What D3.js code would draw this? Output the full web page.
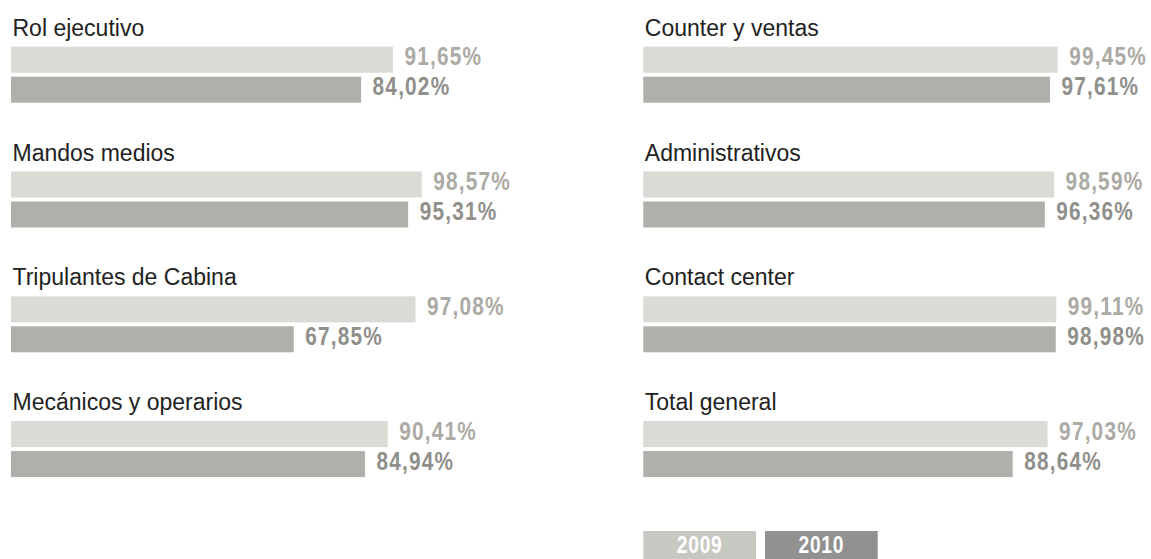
<!DOCTYPE html>
<html>
<head>
<meta charset="utf-8">
<script src="https://cdn.jsdelivr.net/npm/d3@7"></script>
<style>
  html, body { margin: 0; padding: 0; background: #ffffff; }
  svg { display: block; }
</style>
</head>
<body>
<svg id="chart" width="1151" height="559"></svg>
<script>
// Two columns of categories, each with a 2009 and a 2010 percentage
const leftCategories  = ["Rol ejecutivo", "Mandos medios", "Tripulantes de Cabina", "Mecánicos y operarios"];
const left2009        = [91.65, 98.57, 97.08, 90.41];
const left2010        = [84.02, 95.31, 67.85, 84.94];

const rightCategories = ["Counter y ventas", "Administrativos", "Contact center", "Total general"];
const right2009       = [99.45, 98.59, 99.11, 97.03];
const right2010       = [97.61, 96.36, 98.98, 88.64];

const years = ["2009", "2010"];

const svg = d3.select("#chart");

const barColor    = { "2009": "#dbdad5", "2010": "#b0b0ab" };
const labelColor  = { "2009": "#abaaa4", "2010": "#8f8f8b" };
const legendColor = { "2009": "#c8c8c3", "2010": "#919190" };

// Condensed numerals: a bold sans squeezed horizontally
const numFont = "'Liberation Sans', Arial, sans-serif";
const squeeze = 0.8;

// Shared value scale: 0–100 %
const x = d3.scaleLinear().domain([0, 100]).range([0, 416.7]);

// Vertical slots, one per category
const row = d3.scaleBand().domain(d3.range(4)).range([46.7, 46.7 + 4 * 124.8]).padding(0);
// Within a slot: one bar per year
const sub = d3.scaleBand().domain(years).range([0, 56]).paddingInner(0.13);

const fmt = v => d3.format(".2f")(v).replace(".", ",") + "%";

function drawColumn(x0, categories, v2009, v2010) {
  const rows = categories.map((c, i) => ({
    name: c,
    values: [{ year: "2009", v: v2009[i] }, { year: "2010", v: v2010[i] }]
  }));

  const g = svg.append("g").attr("transform", `translate(${x0},0)`);

  const grp = g.selectAll("g.row").data(rows).join("g")
    .attr("class", "row")
    .attr("transform", (d, i) => `translate(0,${row(i)})`);

  grp.append("text")
    .attr("x", 1.5)
    .attr("y", -11)
    .attr("font-family", "'Liberation Sans', Arial, sans-serif")
    .attr("font-size", 23)
    .attr("fill", "#222222")
    .text(d => d.name);

  const bar = grp.selectAll("g.bar").data(d => d.values).join("g").attr("class", "bar");

  bar.append("rect")
    .attr("x", 0)
    .attr("y", d => sub(d.year))
    .attr("width", d => x(d.v))
    .attr("height", sub.bandwidth())
    .attr("fill", d => barColor[d.year]);

  bar.append("text")
    .attr("transform", d => `translate(${x(d.v) + 11.5},${sub(d.year) + 18.5}) scale(${squeeze},1)`)
    .attr("font-family", numFont)
    .attr("font-weight", "bold")
    .attr("font-size", 26)
    .attr("letter-spacing", 1.5)
    .attr("fill", d => labelColor[d.year])
    .text(d => fmt(d.v));
}

drawColumn(11, leftCategories, left2009, left2010);
drawColumn(643.3, rightCategories, right2009, right2010);

// Legend
const legendX = d3.scaleBand().domain(years).range([643.3, 643.3 + 2 * 112.7 + 9]).paddingInner(9 / 121.7);
const lg = svg.append("g").selectAll("g").data(years).join("g");
lg.append("rect")
  .attr("x", d => legendX(d))
  .attr("y", 531)
  .attr("width", legendX.bandwidth())
  .attr("height", 28)
  .attr("fill", d => legendColor[d]);
lg.append("text")
  .attr("transform", d => `translate(${legendX(d) + legendX.bandwidth() / 2},552.5) scale(${squeeze},1)`)
  .attr("text-anchor", "middle")
  .attr("font-family", numFont)
  .attr("font-weight", "bold")
  .attr("font-size", 24)
  .attr("letter-spacing", 1)
  .attr("fill", "#ffffff")
  .text(d => d);
</script>
</body>
</html>
